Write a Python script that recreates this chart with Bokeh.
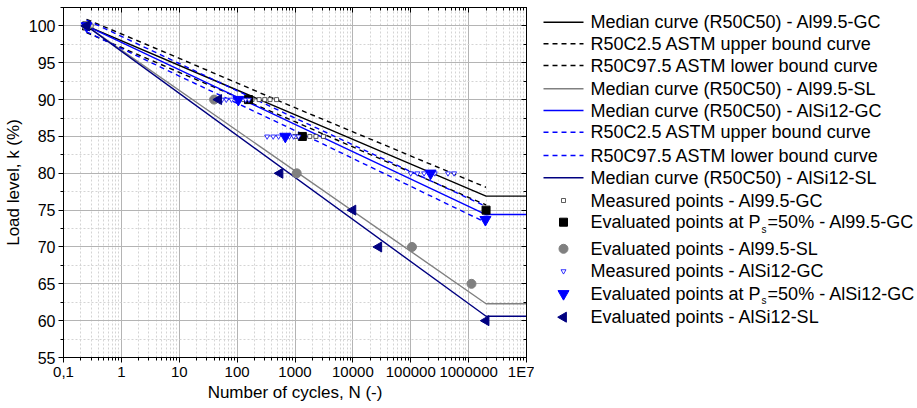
import numpy as np
from bokeh.plotting import figure
from bokeh.layouts import row
from bokeh.models import LogAxis, LinearAxis, FixedTicker, Range1d
from bokeh.core.properties import value
from bokeh.embed import file_html
from bokeh.resources import INLINE

# ---- S-N curves (number of cycles N, load level k in %) ----
al_gc_med_N = [0.25, 2.0e6, 1.0e7]
al_gc_med_k = [100.0, 76.9, 76.9]
al_gc_up_N = [0.25, 10, 1000, 2.0e6]
al_gc_up_k = [100.9, 95.6, 88.9, 78.1]
al_gc_lo_N = [0.25, 10, 1000, 2.0e6]
al_gc_lo_k = [99.1, 93.7, 87.0, 75.7]

al_sl_med_N = [0.25, 2.0e6, 1.0e7]
al_sl_med_k = [100.0, 62.3, 62.3]

si_gc_med_N = [0.25, 2.0e6, 1.0e7]
si_gc_med_k = [100.0, 74.4, 74.4]
si_gc_up_N = [0.25, 10, 1000, 2.0e6]
si_gc_up_k = [100.8, 94.9, 87.5, 75.5]
si_gc_lo_N = [0.25, 10, 1000, 2.0e6]
si_gc_lo_k = [99.2, 93.2, 85.8, 73.3]

si_sl_med_N = [0.25, 2.0e6, 1.0e7]
si_sl_med_k = [100.0, 60.6, 60.6]

# ---- test points ----
al_gc_meas_N = [0.25, 0.27, 0.3, 130, 180, 240, 300, 370, 480,
                1000, 1200, 1400, 1800, 2300, 3100, 2.0e6, 2.1e6]
al_gc_meas_k = [100, 100, 100, 90, 90, 90, 90, 90, 90,
                85, 85, 85, 85, 85, 85, 75, 75]
al_gc_eval_N = [0.25, 157, 1340, 2.0e6]
al_gc_eval_k = [100, 90, 85, 75]

al_sl_eval_N = [0.25, 40, 1070, 1.05e5, 1.12e6]
al_sl_eval_k = [100, 90, 80, 70, 65]

si_gc_meas_N = [0.25, 0.27, 55, 65, 80, 140, 160,
                330, 420, 520, 800, 950, 1150,
                1.0e5, 1.3e5, 1.7e5, 2.6e5, 4.4e5, 5.6e5, 2.0e6]
si_gc_meas_k = [100, 100, 90, 90, 90, 90, 90,
                85, 85, 85, 85, 85, 85,
                80, 80, 80, 80, 80, 80, 74]
si_gc_eval_N = [0.25, 105, 680, 2.2e5, 1.95e6]
si_gc_eval_k = [100, 90, 85, 80, 73.7]

si_sl_eval_N = [0.25, 48, 550, 1.0e4, 2.8e4, 2.0e6]
si_sl_eval_k = [100, 90, 80, 75, 70, 60]

x_ticks = [0.1, 1, 10, 100, 1000, 1e4, 1e5, 1e6, 1e7]
x_tick_labels = ["0,1", "1", "10", "100", "1000", "10000", "100000", "1000000", "1E7"]
y_ticks = [55, 60, 65, 70, 75, 80, 85, 90, 95, 100]

legend_labels = [
    "Median curve (R50C50) - Al99.5-GC",
    "R50C2.5 ASTM upper bound curve",
    "R50C97.5 ASTM lower bound curve",
    "Median curve (R50C50) - Al99.5-SL",
    "Median curve (R50C50) - AlSi12-GC",
    "R50C2.5 ASTM upper bound curve",
    "R50C97.5 ASTM lower bound curve",
    "Median curve (R50C50) - AlSi12-SL",
    "Measured points - Al99.5-GC",
    "Evaluated points at P|s|=50% - Al99.5-GC",
    "Evaluated points - Al99.5-SL",
    "Measured points - AlSi12-GC",
    "Evaluated points at P|s|=50% - AlSi12-GC",
    "Evaluated points - AlSi12-SL",
]

FONT = "Liberation Sans"
BLACK, GRAY, BLUE, NAVY = "#000000", "#808080", "#0000ff", "#000080"
DASH = "5 4"

x_minor = [m * d for d in [0.1, 1, 10, 100, 1000, 1e4, 1e5, 1e6] for m in range(2, 10)]
y_minor = [t + 2.5 for t in y_ticks[:-1]] + [102.5]

PLOT_W = 534
FRAME_TOP, FRAME_H = 7, 350
p = figure(x_axis_type="log", width=PLOT_W, height=408,
           x_range=Range1d(0.1, 1e7), y_range=Range1d(55, 102.5),
           output_backend="svg", toolbar_location=None,
           min_border_left=61, min_border_top=FRAME_TOP,
           min_border_bottom=408 - FRAME_TOP - FRAME_H,
           min_border_right=PLOT_W - 61 - 465)
p.background_fill_color = "white"
p.border_fill_color = "white"
p.outline_line_color = BLACK

xticker = FixedTicker(ticks=x_ticks, minor_ticks=x_minor)
yticker = FixedTicker(ticks=y_ticks, minor_ticks=y_minor)

# bottom / left axes
xa = p.xaxis[0]
xa.ticker = xticker
xa.major_label_overrides = {float(t): l for t, l in zip(x_ticks, x_tick_labels)}
xa.axis_label = "Number of cycles, N (-)"
ya = p.yaxis[0]
ya.ticker = yticker
ya.axis_label = "Load level, k (%)"
for ax in (xa, ya):
    ax.axis_line_color = BLACK
    ax.major_tick_line_color = BLACK
    ax.minor_tick_line_color = BLACK
    ax.major_tick_in = 0
    ax.major_tick_out = 5
    ax.minor_tick_in = 0
    ax.minor_tick_out = 3
    ax.major_label_text_font = FONT
    ax.major_label_text_color = BLACK
    ax.axis_label_text_font = FONT
    ax.axis_label_text_font_size = "17px"
    ax.axis_label_text_font_style = "normal"
    ax.axis_label_text_color = BLACK
xa.major_label_text_font_size = "15px"
ya.major_label_text_font_size = "16px"
xa.major_label_standoff = 0
xa.axis_label_standoff = 0
ya.major_label_standoff = 3
ya.axis_label_standoff = 3

# top / right mirror axes with inward ticks and hidden labels
top = LogAxis(ticker=xticker)
right = LinearAxis(ticker=yticker)
for ax in (top, right):
    ax.major_tick_in = 5
    ax.major_tick_out = 0
    ax.minor_tick_in = 3
    ax.minor_tick_out = 0
    ax.major_label_text_font_size = "2px"
    ax.major_label_text_color = None
    ax.major_label_standoff = 0
    ax.axis_line_color = BLACK
p.add_layout(top, "above")
p.add_layout(right, "right")

# grid
for g in (p.xgrid[0], p.ygrid[0]):
    g.grid_line_color = "#b4b4b4"
    g.grid_line_width = 1
    g.minor_grid_line_color = "#d4d4d4"
    g.minor_grid_line_dash = "2 2"
p.xgrid[0].ticker = xticker
p.ygrid[0].ticker = yticker

# curve and marker styles, in legend order
line_styles = [
    dict(line_color=BLACK, line_width=1.4),
    dict(line_color=BLACK, line_width=1.4, line_dash=DASH),
    dict(line_color=BLACK, line_width=1.4, line_dash=DASH),
    dict(line_color=GRAY, line_width=1.4),
    dict(line_color=BLUE, line_width=1.4),
    dict(line_color=BLUE, line_width=1.4, line_dash=DASH),
    dict(line_color=BLUE, line_width=1.4, line_dash=DASH),
    dict(line_color=NAVY, line_width=1.4),
]
marker_styles = [
    dict(marker="square", size=4, fill_color="white", line_color="#333333", line_width=0.8),
    dict(marker="square", size=8, fill_color=BLACK, line_color=BLACK),
    dict(marker="circle", size=9, fill_color=GRAY, line_color=GRAY),
    dict(marker="inverted_triangle", size=5, fill_color="white", line_color=BLUE, line_width=0.8),
    dict(marker="inverted_triangle", size=11, fill_color=BLUE, line_color=BLUE),
    dict(marker="triangle", size=10, angle=np.pi / 2, fill_color=NAVY, line_color=NAVY),
]

curves = [(al_gc_med_N, al_gc_med_k), (al_gc_up_N, al_gc_up_k), (al_gc_lo_N, al_gc_lo_k),
          (al_sl_med_N, al_sl_med_k), (si_gc_med_N, si_gc_med_k), (si_gc_up_N, si_gc_up_k),
          (si_gc_lo_N, si_gc_lo_k), (si_sl_med_N, si_sl_med_k)]
points = [(al_gc_meas_N, al_gc_meas_k), (al_gc_eval_N, al_gc_eval_k),
          (al_sl_eval_N, al_sl_eval_k), (si_gc_meas_N, si_gc_meas_k),
          (si_gc_eval_N, si_gc_eval_k), (si_sl_eval_N, si_sl_eval_k)]

for (n, k), st in zip(curves, line_styles):
    p.line(n, k, **st)
for (n, k), st in zip(points, marker_styles):
    p.scatter(n, k, **st)

# ---- legend panel; its frame lines up with the plot frame, so the ranges
# below map data units one-to-one onto page pixels (y downwards) ----
LEG_W = 917 - PLOT_W
lg = figure(width=LEG_W, height=408, x_range=Range1d(PLOT_W, 917),
            y_range=Range1d(FRAME_TOP + FRAME_H, FRAME_TOP),
            output_backend="svg", toolbar_location=None,
            x_axis_location=None, y_axis_location=None,
            min_border_left=0, min_border_right=0, min_border_top=FRAME_TOP,
            min_border_bottom=408 - FRAME_TOP - FRAME_H)
lg.grid.visible = False
lg.outline_line_color = None
lg.background_fill_color = "white"
lg.border_fill_color = "white"

FS = 18                      # legend font size, px
row_y = [21.7, 43.3, 65, 88.3, 110, 131.7, 155, 177.3, 200, 221.7,
         248.3, 270.7, 293.3, 316.7]
gx0, gx1, tx = 543, 583, 590

for i, st in enumerate(line_styles):
    lg.segment(x0=[gx0], y0=[row_y[i]], x1=[gx1], y1=[row_y[i]], **st)
for j, st in enumerate(marker_styles):
    i = len(line_styles) + j
    lg.scatter(x=[(gx0 + gx1) / 2], y=[row_y[i]], **st)

# width of "Evaluated points at P" in em (Arial/Liberation Sans advances)
HEAD_EM = 9.45
for i, lab in enumerate(legend_labels):
    if "|" in lab:
        head, sub, tail = lab.split("|")
        w = HEAD_EM * FS
        lg.text(x=[tx], y=[row_y[i]], text=[head], text_baseline="middle",
                text_font=value(FONT), text_font_size=f"{FS}px", text_color=BLACK)
        lg.text(x=[tx + w + 1], y=[row_y[i] + 7], text=[sub], text_baseline="middle",
                text_font=value(FONT), text_font_size="10px", text_color=BLACK)
        lg.text(x=[tx + w + 7], y=[row_y[i]], text=[tail], text_baseline="middle",
                text_font=value(FONT), text_font_size=f"{FS}px", text_color=BLACK)
    else:
        lg.text(x=[tx], y=[row_y[i]], text=[lab], text_baseline="middle",
                text_font=value(FONT), text_font_size=f"{FS}px", text_color=BLACK)

layout = row(p, lg, spacing=0)
open("out.html", "w").write(file_html(layout, INLINE))
